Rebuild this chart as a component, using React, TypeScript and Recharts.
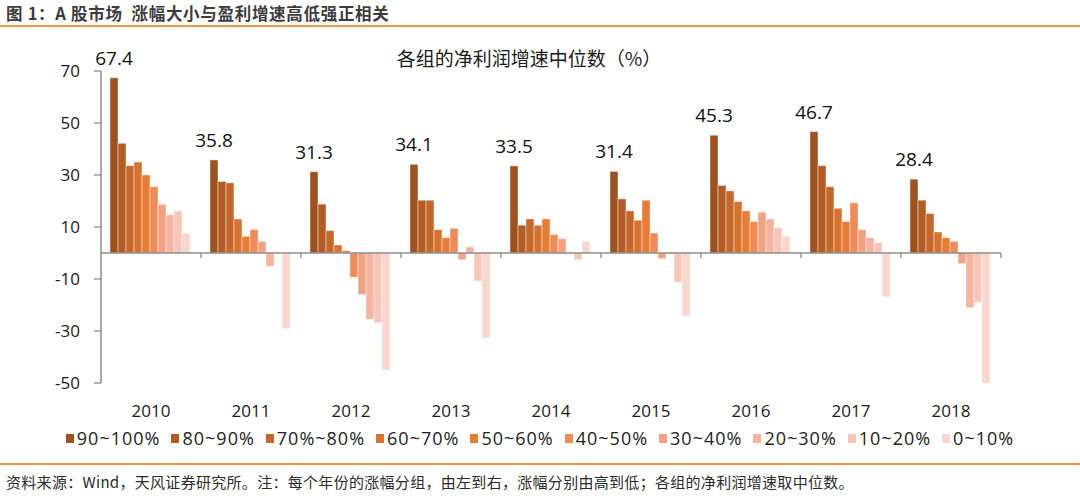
import React from 'react';
import { BarChart, Bar, XAxis, YAxis, ReferenceLine, Legend, LabelList } from 'recharts';

const years = ['2010', '2011', '2012', '2013', '2014', '2015', '2016', '2017', '2018'];
const groupNames = ['90~100%', '80~90%', '70%~80%', '60~70%', '50~60%', '40~50%', '30~40%', '20~30%', '10~20%', '0~10%'];
const groupColors = ['#9E5220', '#B45C25', '#C5682B', '#D6732F', '#E67C35', '#EE8B58', '#F1A283', '#F4B49F', '#F6C6B8', '#F8D7CE'];

const g1 = [67.4, 35.8, 31.3, 34.1, 33.5, 31.4, 45.3, 46.7, 28.4];
const g2 = [42.2, 27.5, 18.8, 20.3, 10.7, 20.8, 26.0, 33.6, 20.3];
const g3 = [33.6, 27.0, 8.6, 20.3, 13.1, 16.2, 23.9, 25.5, 15.2];
const g4 = [35.0, 13.1, 3.1, 9.0, 10.7, 12.6, 19.8, 17.2, 8.1];
const g5 = [30.0, 6.4, 0.9, 5.9, 13.1, 20.3, 16.2, 12.1, 5.9];
const g6 = [25.5, 9.0, -9.3, 9.5, 7.1, 7.7, 12.1, 19.3, 4.5];
const g7 = [18.7, 4.5, -16.0, -2.6, 5.5, -2.2, 15.7, 9.0, -4.1];
const g8 = [14.7, -5.1, -25.5, 2.3, 0.4, -0.3, 13.1, 5.9, -21.0];
const g9 = [16.2, 0.4, -26.8, -10.8, -2.6, -11.3, 9.7, 4.0, -19.0];
const g10 = [7.6, -29.1, -45.0, -32.7, 4.5, -24.2, 6.4, -16.9, -50.0];

const yTicks = [-50, -30, -10, 10, 30, 50, 70];
const series = [g1, g2, g3, g4, g5, g6, g7, g8, g9, g10];
const keys = series.map((_, i) => `g${i + 1}`);

const data = years.map((year, r) => {
  const row: Record<string, number | string> = { year };
  series.forEach((s, i) => {
    row[keys[i]] = s[r];
  });
  return row;
});

const FONT = "'Open Sans', 'Noto Sans CJK SC', sans-serif";
const AXIS = '#8c8c8c';

const ZeroLine = (props: any) => {
  const { x1, y1, x2 } = props;
  const n = years.length;
  const step = (x2 - x1) / n;
  const ticks = [];
  for (let i = 1; i <= n; i++) {
    const x = x1 + step * i;
    ticks.push(<line key={i} x1={x} y1={y1} x2={x} y2={y1 + 5} stroke={AXIS} strokeWidth={1.3} />);
  }
  return (
    <g>
      <line x1={x1} y1={y1} x2={x2} y2={y1} stroke={AXIS} strokeWidth={1.5} />
      {ticks}
    </g>
  );
};

const LegendContent = (props: any) => {
  const { payload } = props;
  const items = [...(payload || [])].sort(
    (a: any, b: any) => groupNames.indexOf(a.value) - groupNames.indexOf(b.value)
  );
  return (
    <div style={{ height: 0, overflow: 'visible' }}>
      <div style={{ display: 'flex', justifyContent: 'center', alignItems: 'center', fontFamily: FONT, fontSize: 18, color: '#222', letterSpacing: 1.0, height: 24 }}>
        {items.map((p: any, i: number) => (
          <div key={i} style={{ display: 'flex', alignItems: 'center', marginRight: i === items.length - 1 ? 0 : 11 }}>
            <span style={{ display: 'inline-block', width: 8, height: 9, background: p.color, marginRight: 3 }} />
            <span>{p.value}</span>
          </div>
        ))}
      </div>
    </div>
  );
};

export default function App() {
  return (
    <div style={{ position: 'absolute', left: 0, top: 0, width: 1080, height: 499, background: '#fff', fontFamily: FONT, overflow: 'hidden' }}>
      <div style={{ position: 'absolute', left: 6, top: 1, fontSize: 16.5, fontWeight: 700, color: '#3c3c3c', fontFamily: "'Noto Sans CJK SC', sans-serif", letterSpacing: 0.7, whiteSpace: 'pre' }}>
        图 1：A 股市场  涨幅大小与盈利增速高低强正相关
      </div>
      <div style={{ position: 'absolute', left: 0, top: 25, width: 1080, height: 2, background: '#F39443' }} />
      <div style={{ position: 'absolute', left: 0, top: 44, width: 1080, textAlign: 'center', fontSize: 19, color: '#1a1a1a', fontFamily: "'Noto Sans CJK SC', sans-serif" }}>
        <span style={{ position: 'relative', left: -11 }}>各组的净利润增速中位数（%）</span>
      </div>
      <div style={{ position: 'absolute', left: 0, top: 0 }}>
        <BarChart
          width={1080}
          height={460}
          data={data}
          margin={{ top: 71, right: 79, left: 0, bottom: 47 }}
          barCategoryGap="9%"
          barGap={0}
        >
          <XAxis
            dataKey="year"
            axisLine={false}
            tickLine={false}
            interval={0}
            tickMargin={16}
            height={30}
            tick={{ fontSize: 17, fill: '#1a1a1a', fontFamily: FONT }}
          />
          <YAxis
            domain={[-50, 70]}
            ticks={yTicks}
            width={101}
            axisLine={{ stroke: AXIS, strokeWidth: 1.5 }}
            tickLine={{ stroke: AXIS, strokeWidth: 1.3 }}
            tickSize={7}
            tickMargin={14}
            allowDataOverflow
            tick={{ fontSize: 17, fill: '#1a1a1a', fontFamily: FONT }}
          />
          <Legend
            content={<LegendContent />}
            wrapperStyle={{ position: 'absolute', top: 426, left: 0, width: 1080 }}
          />
          {keys.map((k, i) => (
            <Bar
              key={k}
              dataKey={k}
              name={groupNames[i]}
              fill={groupColors[i]}
              stroke="rgba(255,255,255,0.55)"
              strokeWidth={0.8}
              isAnimationActive={false}
            >
              {i === 0 && (
                <LabelList dataKey={k} position="top" offset={13} style={{ fontSize: 19, fill: '#111', fontFamily: FONT }} />
              )}
            </Bar>
          ))}
          <ReferenceLine y={0} shape={<ZeroLine />} />
        </BarChart>
      </div>
      <div style={{ position: 'absolute', left: 0, top: 463, width: 1080, height: 2, background: '#F39443' }} />
      <div style={{ position: 'absolute', left: 6, top: 471, fontSize: 15, color: '#2a2a2a', fontFamily: "'Noto Sans CJK SC', sans-serif", letterSpacing: 0.3, whiteSpace: 'pre' }}>
        资料来源：Wind，天风证券研究所。注：每个年份的涨幅分组，由左到右，涨幅分别由高到低；各组的净利润增速取中位数。
      </div>
    </div>
  );
}
